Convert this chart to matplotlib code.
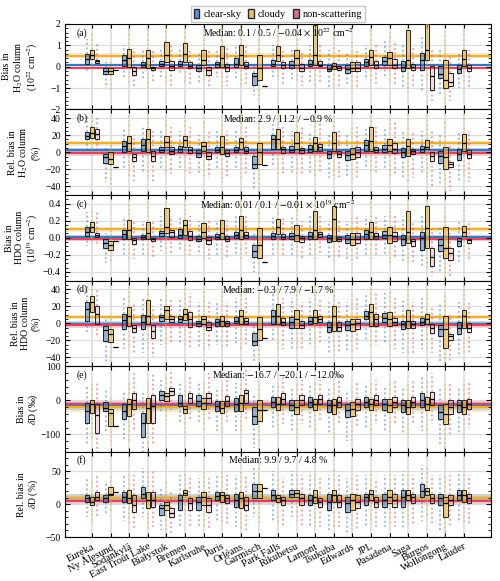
import matplotlib
matplotlib.use("Agg")
import matplotlib.pyplot as plt
from matplotlib.patches import Patch
from matplotlib.ticker import AutoMinorLocator

plt.rcParams['font.family'] = ['Liberation Serif', 'DejaVu Serif']
plt.rcParams['mathtext.fontset'] = 'stix'
plt.rcParams['font.size'] = 7

sites = ["Eureka", "Ny Ålesund", "Sodankylä", "East Trout Lake", "Białystok",
         "Bremen", "Karlsruhe", "Paris", "Orléans", "Garmisch", "Park Falls",
         "Rikubetsu", "Lamont", "Tsukuba", "Edwards", "JPL", "Pasadena",
         "Saga", "Burgos", "Wollongong", "Lauder"]
categories = ["clear-sky", "cloudy", "non-scattering"]
colors = ["#3d74b6", "#e8b23a", "#d5485f"]

# (q1, median, q3) per site, and (low, high) spread of the single retrievals
# (a) bias H2O column, 1e22 cm-2
a_clear = [(0.12, 0.35, 0.6), (-0.35, -0.2, -0.05), (0.05, 0.3, 0.55), (0.0, 0.1, 0.2), (0.02, 0.12, 0.25),
           (0.02, 0.15, 0.25), (-0.2, -0.05, 0.1), (0.0, 0.12, 0.2), (0.0, 0.15, 0.4), (-0.85, -0.45, -0.3),
           (0.02, 0.15, 0.33), (-0.06, 0.1, 0.25), (0.02, 0.15, 0.33), (-0.22, -0.1, 0.09), (-0.29, -0.1, 0.09),
           (0.02, 0.2, 0.36), (0.09, 0.25, 0.45), (-0.22, 0.0, 0.25), (-0.14, 0.3, 0.64), (-0.53, -0.35, 0.02),
           (-0.29, -0.1, 0.09)]
a_cloudy = [(0.35, 0.55, 0.8), (-0.35, -0.2, -0.05), (0.0, 0.42, 0.85), (-0.05, 0.42, 0.8), (0.2, 0.55, 1.18),
            (0.2, 0.6, 1.1), (0.1, 0.3, 0.8), (0.0, 0.4, 0.97), (0.1, 0.55, 1.0), (-0.6, -0.05, 0.55),
            (0.25, 0.55, 0.98), (0.09, 0.4, 0.79), (0.09, 0.55, 1.95), (-0.1, 0.05, 0.17), (-0.22, -0.05, 0.2),
            (0.09, 0.45, 0.79), (0.09, 0.4, 0.71), (-0.06, 0.33, 1.72), (0.33, 0.79, 2.1), (-1.0, -0.6, 0.33),
            (0.02, 0.36, 0.79)]
a_nonscat = [(0.19, 0.25, 0.33), (-0.14, -0.14, -0.14), (-0.37, -0.2, 0.0), (-0.15, -0.07, 0.0), (-0.15, 0.03, 0.25),
             (-0.05, 0.05, 0.2), (-0.37, -0.15, 0.0), (-0.2, 0.0, 0.15), (-0.05, 0.05, 0.2), (-0.92, -0.92, -0.92),
             (-0.06, 0.1, 0.22), (-0.22, -0.05, 0.12), (0.02, 0.1, 0.25), (-0.14, -0.05, 0.02), (-0.22, -0.05, 0.2),
             (-0.06, 0.1, 0.25), (-0.06, 0.1, 0.36), (-0.14, 0.0, 0.12), (-1.07, -0.45, 0.02), (-0.92, -0.7, -0.29),
             (-0.18, -0.05, 0.09)]
a_clear_rng = [(-0.2, 1.3), (-1.0, 0.2), (-0.5, 1.0), (-0.6, 0.8), (-0.5, 0.9), (-0.4, 0.9), (-0.8, 0.6),
               (-0.5, 0.8), (-0.6, 1.0), (-1.3, 0.1), (-0.5, 1.0), (-0.6, 0.8), (-0.7, 1.0), (-1.0, 0.8),
               (-0.9, 0.6), (-0.6, 1.0), (-0.5, 1.2), (-1.0, 1.0), (-1.2, 1.5), (-1.3, 0.8), (-1.0, 0.7)]
a_cloudy_rng = [(-0.3, 1.6), (-1.1, 0.3), (-0.8, 1.8), (-1.0, 1.8), (-0.8, 2.0), (-0.8, 2.0), (-0.8, 1.8),
                (-1.0, 2.0), (-1.0, 2.0), (-1.6, 1.4), (-0.6, 1.9), (-0.7, 1.8), (-1.0, 2.0), (-1.0, 1.8),
                (-1.0, 1.2), (-0.8, 1.8), (-0.8, 1.6), (-1.2, 2.0), (-0.8, 2.0), (-2.0, 1.5), (-0.8, 1.8)]
a_nonscat_rng = [(-0.1, 1.1), (-0.14, -0.14), (-1.0, 0.9), (-0.8, 0.8), (-0.9, 1.0), (-0.9, 0.9), (-1.0, 0.8),
                 (-0.9, 0.9), (-0.8, 1.0), (-0.92, -0.92), (-0.8, 0.9), (-0.9, 0.8), (-0.8, 1.0), (-0.9, 0.8),
                 (-1.0, 0.9), (-0.9, 1.0), (-0.9, 1.1), (-1.0, 0.9), (-1.6, 0.8), (-1.6, 0.5), (-1.0, 0.8)]
a_median = [0.1, 0.5, -0.04]
a_band = [(0.05, 0.15), (0.42, 0.62), (-0.11, 0.01)]

# (b) relative bias H2O column, %
b_clear = [(15, 18.5, 24), (-12, -6, -2), (0, 7, 13), (1, 8, 15), (0, 3, 6), (0, 4, 7), (-5, -1, 3), (0, 3, 6),
           (0, 3, 6), (-19, -14, -4), (3.5, 15, 20), (0, 3, 7), (0, 4, 8), (-7, -2, 1.5), (-9, -3, 1.5),
           (1.5, 9, 14), (0, 3.5, 9), (-6, 0, 5), (0, 3.5, 7), (-12, -4, 1.5), (-9, -2, 3.5)]
b_cloudy = [(17, 23, 30), (-14, -8, 0), (1, 11, 19), (0, 15, 27), (6, 12, 19), (6, 14, 19), (1, 7, 12),
            (-2, 6, 19), (4, 12, 17), (-14, 0, 11), (3.5, 15, 27), (3.5, 11, 24), (1.5, 11, 18), (1.5, 11, 24),
            (-8, -2, 5), (1.5, 13, 29), (1.5, 9, 16), (-4, 7, 15), (3.5, 6, 14), (-20, -6, 6), (1.5, 11, 21)]
b_nonscat = [(15, 21, 27), (-17, -17, -17), (-10, -5, -2), (-10, -4, 1), (-2, 2, 6), (-1, 3, 6), (-8, -4, 0),
             (-4, -1, 3), (-1, 2, 6), (-15, -15, -15), (-1, 4, 6), (-1, 3, 5), (1, 6, 10), (-6, -2, 1),
             (-6, 0, 6), (0, 3, 6), (-1, 4, 11), (-2, 1, 4), (-10, -4, 0), (-17, -14, -11), (-7, -2, 3)]
b_clear_rng = [(0, 45), (-35, 5), (-20, 30), (-25, 30), (-20, 25), (-20, 25), (-25, 20), (-20, 25), (-20, 25),
               (-45, 5), (-15, 35), (-25, 25), (-25, 25), (-30, 20), (-30, 20), (-20, 30), (-20, 30), (-30, 25),
               (-25, 25), (-40, 20), (-35, 25)]
b_cloudy_rng = [(0, 45), (-40, 10), (-30, 45), (-30, 45), (-25, 45), (-25, 45), (-30, 40), (-35, 45), (-30, 45),
                (-45, 35), (-25, 45), (-25, 45), (-30, 45), (-30, 45), (-35, 30), (-25, 45), (-30, 40), (-35, 45),
                (-30, 45), (-48, 35), (-30, 45)]
b_nonscat_rng = [(0, 40), (-17, -17), (-35, 20), (-35, 25), (-25, 30), (-25, 30), (-30, 25), (-30, 25), (-25, 30),
                 (-15, -15), (-25, 30), (-25, 30), (-25, 35), (-30, 25), (-30, 30), (-25, 30), (-25, 35), (-30, 25),
                 (-40, 25), (-45, 10), (-35, 25)]
b_median = [2.9, 11.2, -0.9]
b_band = [(0.5, 5.5), (7.5, 13.5), (-4, 2)]

# (c) bias HDO column, 1e19 cm-2
c_clear = [(0.016, 0.07, 0.13), (-0.12, -0.06, -0.02), (-0.02, 0.04, 0.09), (-0.01, 0.01, 0.035), (0.02, 0.05, 0.08),
           (0.0, 0.03, 0.1), (-0.04, -0.01, 0.016), (-0.01, 0.01, 0.04), (0.0, 0.03, 0.07), (-0.22, -0.16, -0.08),
           (-0.01, 0.02, 0.05), (-0.01, 0.02, 0.055), (-0.01, 0.02, 0.07), (-0.05, 0.0, 0.035), (-0.06, -0.01, 0.035),
           (-0.02, 0.04, 0.09), (0.0, 0.03, 0.08), (-0.08, -0.02, 0.035), (-0.14, 0.0, 0.07), (-0.16, -0.08, -0.02),
           (-0.1, -0.04, 0.0)]
c_cloudy = [(0.07, 0.13, 0.18), (-0.14, -0.08, -0.04), (-0.02, 0.09, 0.21), (-0.02, 0.05, 0.18), (0.05, 0.13, 0.35),
            (0.035, 0.15, 0.21), (0.0, 0.07, 0.17), (-0.01, 0.05, 0.21), (-0.02, 0.09, 0.25), (-0.24, -0.08, 0.11),
            (0.04, 0.13, 0.22), (-0.04, 0.035, 0.15), (-0.02, 0.09, 0.31), (-0.04, 0.22, 0.37), (-0.09, -0.02, 0.05),
            (-0.01, 0.07, 0.18), (-0.06, 0.035, 0.13), (-0.06, 0.07, 0.31), (-0.12, 0.11, 0.37), (-0.24, -0.12, 0.13),
            (0.016, 0.07, 0.14)]
c_nonscat = [(0.01, 0.03, 0.055), (-0.04, -0.04, -0.04), (-0.07, -0.03, 0.0), (-0.04, -0.02, 0.0), (0.01, 0.07, 0.09),
             (-0.03, 0.02, 0.08), (-0.07, -0.03, 0.01), (-0.04, -0.01, 0.016), (0.0, 0.03, 0.07), (-0.28, -0.28, -0.28),
             (-0.02, 0.01, 0.04), (-0.05, 0.0, 0.02), (0.01, 0.04, 0.07), (-0.04, -0.01, 0.01), (-0.06, -0.01, 0.05),
             (-0.01, 0.02, 0.055), (-0.04, 0.02, 0.07), (-0.1, -0.04, -0.01), (-0.33, -0.22, -0.12),
             (-0.26, -0.18, -0.12), (-0.06, -0.03, -0.01)]
c_clear_rng = [(-0.1, 0.3), (-0.3, 0.05), (-0.2, 0.25), (-0.2, 0.2), (-0.15, 0.25), (-0.15, 0.25), (-0.2, 0.2),
               (-0.2, 0.2), (-0.2, 0.25), (-0.4, 0.05), (-0.2, 0.25), (-0.2, 0.25), (-0.2, 0.25), (-0.25, 0.2),
               (-0.25, 0.2), (-0.2, 0.25), (-0.2, 0.25), (-0.3, 0.25), (-0.35, 0.25), (-0.4, 0.15), (-0.3, 0.2)]
c_cloudy_rng = [(-0.1, 0.35), (-0.3, 0.1), (-0.25, 0.45), (-0.25, 0.45), (-0.2, 0.5), (-0.2, 0.45), (-0.25, 0.45),
                (-0.25, 0.45), (-0.25, 0.45), (-0.45, 0.35), (-0.2, 0.45), (-0.25, 0.45), (-0.25, 0.5), (-0.3, 0.5),
                (-0.3, 0.3), (-0.25, 0.45), (-0.3, 0.4), (-0.3, 0.5), (-0.35, 0.5), (-0.5, 0.4), (-0.2, 0.4)]
c_nonscat_rng = [(-0.1, 0.3), (-0.04, -0.04), (-0.25, 0.2), (-0.25, 0.2), (-0.2, 0.25), (-0.2, 0.25), (-0.25, 0.2),
                 (-0.25, 0.2), (-0.2, 0.25), (-0.28, -0.28), (-0.2, 0.25), (-0.25, 0.2), (-0.2, 0.25), (-0.25, 0.2),
                 (-0.25, 0.25), (-0.2, 0.25), (-0.25, 0.25), (-0.3, 0.2), (-0.45, 0.1), (-0.45, 0.05), (-0.25, 0.2)]
c_median = [0.01, 0.1, -0.01]
c_band = [(-0.005, 0.03), (0.07, 0.13), (-0.04, 0.01)]

# (d) relative bias HDO column, %
d_clear = [(3, 17, 25), (-21, -8, -3), (-7, 4, 11), (-7, 1, 10), (3, 7, 10), (1, 5, 8), (-3, 0, 3), (-3, 1, 5),
           (0, 3, 7), (-26, -21, -11), (-1, 9, 16), (-5, 1, 7), (-1, 3, 7), (-10, -4, 1), (-8, -2, 3), (5, 9, 14),
           (1, 6, 12), (-7, -1, 3), (-2, 2, 6), (-15, -7, -2), (-12, -5, 1)]
d_cloudy = [(13, 25, 32), (-22, -13, -7), (-3, 9, 19), (-1, 9, 27), (5, 15, 20), (4, 11, 17), (-1, 5, 9),
            (-3, 3, 9), (-1, 9, 15), (-19, -7, 7), (-1, 9, 22), (-5, 5, 16), (0, 7, 15), (-9, 9, 20), (-9, -1, 5),
            (-3, 13, 23), (-3, 5, 13), (-5, 3, 16), (-1, 5, 11), (-29, -7, 8), (-6, 9, 16)]
d_nonscat = [(-1, 11, 20), (-28, -28, -28), (-10, -6, -2), (-17, -9, -2), (1, 5, 9), (-4, 5, 13), (-8, -4, 1),
             (-3, 0, 3), (-1, 3, 6), (-17, -17, -17), (-2, 2, 6), (-6, -2, 3), (1, 5, 9), (-9, -4, 1), (-7, 0, 5),
             (-3, 5, 11), (-2, 2, 6), (-6, -1, 3), (-11, -5, -1), (-20, -15, -12), (-10, -5, 0)]
d_clear_rng = [(-10, 45), (-45, 5), (-30, 30), (-35, 30), (-25, 30), (-25, 30), (-30, 25), (-25, 25), (-25, 30),
               (-45, 0), (-20, 35), (-30, 30), (-25, 30), (-35, 25), (-35, 25), (-20, 35), (-25, 35), (-35, 30),
               (-30, 30), (-45, 25), (-40, 25)]
d_cloudy_rng = [(0, 48), (-45, 10), (-30, 45), (-30, 48), (-25, 45), (-25, 45), (-30, 40), (-30, 40), (-30, 45),
                (-48, 35), (-30, 48), (-30, 45), (-30, 45), (-35, 48), (-35, 35), (-30, 48), (-30, 40), (-35, 45),
                (-30, 40), (-50, 35), (-35, 45)]
d_nonscat_rng = [(-15, 40), (-28, -28), (-35, 25), (-40, 20), (-25, 30), (-30, 35), (-30, 25), (-30, 25), (-25, 30),
                 (-17, -17), (-30, 30), (-30, 25), (-25, 30), (-35, 25), (-30, 30), (-25, 35), (-30, 30), (-35, 25),
                 (-35, 20), (-45, 10), (-35, 25)]
d_median = [-0.3, 7.9, -1.7]
d_band = [(-3, 2.5), (5, 10), (-5, 1)]

# (e) bias deltaD, permil
e_clear = [(-66, -32, -8), (-32, -22, -6), (-56, -32, -12), (-109, -66, -37), (2, 16, 26), (-17, -8, 16),
           (-17, -3, 16), (-32, -17, -3), (-32, -12, 6), (-70, -45, -20), (-20, -5, 10), (-30, -15, 0),
           (-20, -5, 10), (-35, -15, 0), (-50, -30, -10), (-20, -5, 10), (-30, -10, 5), (-35, -15, 0),
           (-20, 0, 20), (-55, -35, -15), (-35, -15, 0)]
e_cloudy = [(-37, -12, 2), (-75, -37, -27), (-46, -12, 4), (-66, -22, 6), (-3, 12, 21), (-37, -27, -17),
            (-27, -8, 6), (-37, -22, -3), (-32, -8, 16), (-60, -30, 0), (-30, -10, 10), (-40, -20, 0),
            (-30, -10, 5), (-40, -15, 5), (-45, -25, -5), (-30, -10, 5), (-35, -15, 5), (-40, -20, 0),
            (-30, -10, 10), (-70, -40, -10), (-40, -20, 0)]
e_nonscat = [(-95, -42, -12), (-75, -75, -75), (-27, 2, 21), (-66, -17, 16), (16, 26, 36), (-8, 7, 21),
             (-8, 7, 21), (-17, -3, 12), (-8, 21, 31), (-30, -30, -30), (-10, 5, 20), (-15, 0, 15),
             (-10, 5, 15), (-20, -5, 10), (-30, -10, 5), (-15, 0, 15), (-20, -5, 10), (-20, -5, 10),
             (-15, 5, 25), (-40, -20, 0), (-25, -10, 5)]
e_clear_rng = [(-130, 40), (-90, 30), (-120, 30), (-150, 20), (-40, 60), (-70, 50), (-70, 50), (-90, 40), (-90, 50),
               (-140, 20), (-80, 50), (-90, 40), (-80, 50), (-100, 40), (-120, 30), (-80, 50), (-90, 40), (-100, 40),
               (-90, 70), (-130, 40), (-100, 40)]
e_cloudy_rng = [(-110, 50), (-130, 10), (-120, 50), (-150, 50), (-60, 70), (-100, 40), (-90, 50), (-100, 40),
                (-100, 60), (-130, 50), (-100, 50), (-110, 50), (-100, 50), (-110, 50), (-120, 40), (-100, 50),
                (-100, 50), (-110, 50), (-100, 60), (-150, 50), (-110, 50)]
e_nonscat_rng = [(-150, 50), (-75, -75), (-90, 80), (-130, 80), (-30, 90), (-60, 70), (-60, 80), (-70, 70), (-60, 90),
                 (-30, -30), (-70, 70), (-70, 60), (-60, 60), (-70, 60), (-80, 50), (-70, 60), (-70, 60), (-70, 60),
                 (-70, 80), (-100, 50), (-80, 50)]
e_median = [-16.7, -20.1, -12.0]
e_band = [(-30, -5), (-35, -8), (-22, -2)]

# (f) relative bias deltaD, %
f_clear = [(3.6, 8.7, 14), (3.6, 8.7, 14), (3.6, 11, 19), (8.7, 16, 26), (-17, -6.6, -1.5), (-9, 6, 14),
           (-9, 3.6, 11), (6, 12, 19), (-4, 6, 16), (10, 20, 30), (6, 14, 21), (11, 16, 21), (-1.5, 6, 14),
           (-9, 3.6, 16), (-12, 1, 11), (-1.5, 11, 16), (-4, 6, 16), (-4, 11, 21), (11, 20, 30), (-1.5, 8.7, 16),
           (6, 14, 21)]
f_cloudy = [(-1.5, 3.6, 11), (14, 16, 26), (1, 8.7, 21), (-6.6, 6, 19), (-9, -1.5, 3.6), (14, 17, 21),
            (-1.5, 11, 19), (3.6, 14, 19), (-6.6, 8.7, 19), (10, 20, 30), (3.6, 8.7, 14), (11, 17, 21), (1, 11, 21),
            (3.6, 14, 21), (-9, 6, 16), (6, 16, 21), (1, 11, 21), (6, 14, 21), (14, 20, 25), (-19.5, 1, 11),
            (3.6, 14, 21)]
f_nonscat = [(6, 11, 19), (19, 19, 19), (-12, -1.5, 14), (-4, 6, 19), (-19.5, -14, -6.6), (-9, 1, 8.7),
             (-12, -1.5, 8.7), (1, 8.7, 14), (-9, -1.5, 11), (25, 25, 25), (-1.5, 6, 11), (-1.5, 8.7, 16),
             (-4, 3.6, 8.7), (-4, 3.6, 14), (-6.6, 3.6, 14), (-4, 3.6, 11), (-4, 6, 16), (1, 11, 16), (1, 8.7, 16),
             (-1.5, 6, 14), (1, 8.7, 16)]
f_clear_rng = [(-20, 40), (-15, 35), (-25, 45), (-20, 55), (-40, 25), (-35, 45), (-35, 40), (-25, 45), (-35, 45),
               (-20, 55), (-25, 50), (-20, 50), (-35, 45), (-40, 45), (-45, 40), (-35, 45), (-35, 45), (-40, 50),
               (-25, 60), (-40, 45), (-25, 50)]
f_cloudy_rng = [(-30, 35), (-10, 45), (-30, 50), (-40, 50), (-40, 35), (-20, 50), (-35, 50), (-30, 50), (-40, 50),
                (-30, 60), (-30, 45), (-25, 50), (-35, 50), (-35, 55), (-40, 45), (-30, 50), (-30, 50), (-30, 50),
                (-20, 55), (-50, 45), (-30, 50)]
f_nonscat_rng = [(-20, 45), (19, 19), (-40, 45), (-35, 50), (-45, 20), (-35, 40), (-40, 40), (-30, 45), (-40, 45),
                 (25, 25), (-35, 40), (-35, 45), (-35, 40), (-35, 45), (-40, 45), (-35, 40), (-35, 45), (-30, 45),
                 (-30, 45), (-35, 45), (-30, 45)]
f_median = [9.9, 9.7, 4.8]
f_band = [(5, 15), (4, 15), (0, 10)]

panels = [
    ("(a)", "Bias in\nH$_2$O column\n(10$^{22}$ cm$^{-2}$)", (-2, 2), [-2, -1, 0, 1, 2],
     "Median: 0.1 / 0.5 / $-$0.04 $\\times$ 10$^{22}$ cm$^{-2}$",
     [a_clear, a_cloudy, a_nonscat], [a_clear_rng, a_cloudy_rng, a_nonscat_rng], a_median, a_band),
    ("(b)", "Rel. bias in\nH$_2$O column\n(%)", (-50, 50), [-40, -20, 0, 20, 40],
     "Median: 2.9 / 11.2 / $-$0.9 %",
     [b_clear, b_cloudy, b_nonscat], [b_clear_rng, b_cloudy_rng, b_nonscat_rng], b_median, b_band),
    ("(c)", "Bias in\nHDO column\n(10$^{19}$ cm$^{-2}$)", (-0.5, 0.5), [-0.4, -0.2, 0, 0.2, 0.4],
     "Median: 0.01 / 0.1 / $-$0.01 $\\times$ 10$^{19}$ cm$^{-2}$",
     [c_clear, c_cloudy, c_nonscat], [c_clear_rng, c_cloudy_rng, c_nonscat_rng], c_median, c_band),
    ("(d)", "Rel. bias in\nHDO column\n(%)", (-50, 50), [-40, -20, 0, 20, 40],
     "Median: $-$0.3 / 7.9 / $-$1.7 %",
     [d_clear, d_cloudy, d_nonscat], [d_clear_rng, d_cloudy_rng, d_nonscat_rng], d_median, d_band),
    ("(e)", "Bias in\n$\\delta$D (‰)", (-150, 100), [-100, 0, 100],
     "Median: $-$16.7 / $-$20.1 / $-$12.0‰",
     [e_clear, e_cloudy, e_nonscat], [e_clear_rng, e_cloudy_rng, e_nonscat_rng], e_median, e_band),
    ("(f)", "Rel. bias in\n$\\delta$D (%)", (-50, 80), [-50, 0, 50],
     "Median: 9.9 / 9.7 / 4.8 %",
     [f_clear, f_cloudy, f_nonscat], [f_clear_rng, f_cloudy_rng, f_nonscat_rng], f_median, f_band),
]

offsets = [-0.27, 0.0, 0.27]
box_alpha = [0.55, 0.6, 0.2]

fig, axes = plt.subplots(6, 1, figsize=(5.0, 5.81), dpi=100, sharex=True)
fig.subplots_adjust(left=0.13, right=0.982, top=0.9587, bottom=0.0757, hspace=0)

for ax, (tag, ylabel, ylim, yticks, medtext, boxes, rngs, medians, bands) in zip(axes, panels):
    for i in range(len(sites)):
        ax.axvline(i, color="#dddddd", lw=1.2, zorder=0)
    for yt in yticks:
        ax.axhline(yt, color="#dddddd", lw=0.9, zorder=0)

    for c in range(3):
        ax.axhspan(bands[c][0], bands[c][1], color=colors[c], alpha=0.25, lw=0, zorder=1)
        ax.axhline(medians[c], color=colors[c], lw=1.6, zorder=1.5)

    for c in range(3):
        stats = []
        for (q1, med, q3), (lo, hi) in zip(boxes[c], rngs[c]):
            stats.append(dict(med=med, q1=q1, q3=q3, whislo=lo, whishi=hi, fliers=[]))
        pos = [i + offsets[c] for i in range(len(sites))]
        bp = ax.bxp(stats, positions=pos, widths=0.24, patch_artist=True, showcaps=False,
                    showfliers=False, manage_ticks=False,
                    boxprops=dict(facecolor=colors[c], edgecolor="#222222", lw=0.7),
                    medianprops=dict(color="black", lw=0.9),
                    whiskerprops=dict(color=colors[c], lw=1.5, alpha=0.45, ls=(0, (1, 1.2))))
        for patch in bp["boxes"]:
            patch.set_facecolor(matplotlib.colors.to_rgba(colors[c], box_alpha[c]))
            patch.set_zorder(3)
        for m in bp["medians"]:
            m.set_zorder(4)

    ax.set_ylim(*ylim)
    ax.set_yticks(yticks)
    ax.yaxis.set_minor_locator(AutoMinorLocator())
    ax.tick_params(axis="y", which="both", direction="in", left=True, right=True, labelsize=7, pad=3)
    ax.tick_params(axis="x", which="both", direction="in", top=True, bottom=True, length=3)
    ax.set_ylabel(ylabel, fontsize=7, linespacing=1.1)
    ax.yaxis.set_label_coords(-0.058, 0.5)
    ax.text(0.028, 0.895, tag, transform=ax.transAxes, va="center", ha="left", fontsize=7)
    ax.text(0.5, 0.895, medtext, transform=ax.transAxes, va="center", ha="center", fontsize=7)

axes[-1].set_xlim(-1.45, len(sites) - 1 + 1.45)
axes[-1].set_xticks(range(len(sites)))
axes[-1].set_xticklabels(sites, rotation=27, ha="right", rotation_mode="anchor", fontsize=7.5)

handles = [Patch(facecolor=matplotlib.colors.to_rgba(colors[c], 0.8), edgecolor="#1f2a44", lw=1.0)
           for c in range(3)]
axes[0].legend(handles, categories, loc="lower center", bbox_to_anchor=(0.5, 1.0), ncol=3,
               fontsize=7.5, handlelength=0.5, handleheight=0.9, columnspacing=0.7, handletextpad=0.4,
               borderaxespad=0.15, borderpad=0.3, frameon=True, edgecolor="#bbbbbb", fancybox=False)

fig.savefig("out.png", dpi=100)
